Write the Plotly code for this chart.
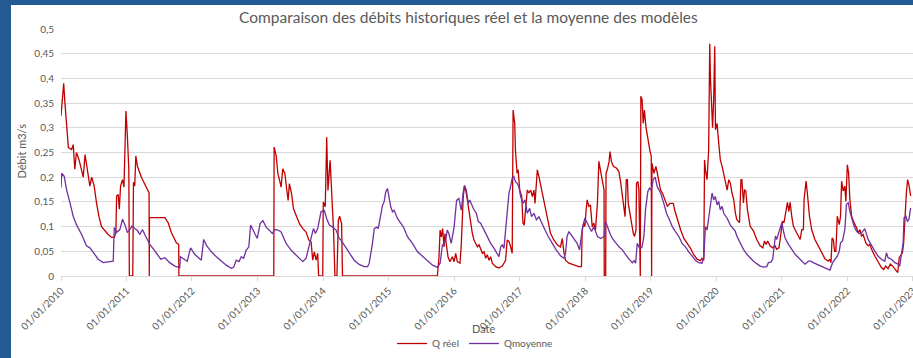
import plotly.graph_objects as go

# Débits journaliers relevés (Q réel), m3/s
q_reel = [
    ("2010-01-01", 0.324), ("2010-01-08", 0.364), ("2010-01-16", 0.39), ("2010-01-23", 0.35),
    ("2010-02-01", 0.31), ("2010-02-11", 0.26), ("2010-03-01", 0.256), ("2010-03-10", 0.266),
    ("2010-03-19", 0.216), ("2010-03-28", 0.25), ("2010-04-11", 0.236), ("2010-04-26", 0.216),
    ("2010-05-05", 0.2), ("2010-05-15", 0.246), ("2010-05-27", 0.216), ("2010-06-11", 0.182),
    ("2010-06-21", 0.2), ("2010-07-05", 0.182), ("2010-07-18", 0.148), ("2010-07-31", 0.121),
    ("2010-08-15", 0.1), ("2010-09-03", 0.091), ("2010-09-21", 0.084), ("2010-10-10", 0.078),
    ("2010-10-25", 0.078), ("2010-11-03", 0.088), ("2010-11-07", 0.162), ("2010-11-16", 0.165),
    ("2010-11-22", 0.135), ("2010-11-29", 0.182), ("2010-12-10", 0.195), ("2010-12-18", 0.18),
    ("2010-12-23", 0.29), ("2010-12-29", 0.334),
    ("2011-01-06", 0.283), ("2011-01-14", 0.216), ("2011-01-17", 0), ("2011-02-05", 0),
    ("2011-02-09", 0.19), ("2011-02-16", 0.182), ("2011-02-22", 0.243), ("2011-03-03", 0.222),
    ("2011-03-25", 0.2), ("2011-05-07", 0.168), ("2011-05-08", 0), ("2011-05-09", 0.118),
    ("2011-08-03", 0.118), ("2011-08-21", 0.108), ("2011-09-08", 0.088), ("2011-10-06", 0.067),
    ("2011-10-19", 0.064), ("2011-10-20", 0),
    ("2013-04-01", 0), ("2013-04-03", 0.261), ("2013-04-14", 0.244), ("2013-04-24", 0.207),
    ("2013-05-03", 0.194), ("2013-05-12", 0.18), ("2013-05-21", 0.217), ("2013-06-02", 0.207),
    ("2013-06-13", 0.173), ("2013-06-20", 0.153), ("2013-06-27", 0.187), ("2013-07-09", 0.167),
    ("2013-07-20", 0.136), ("2013-08-04", 0.123), ("2013-08-22", 0.106), ("2013-09-10", 0.096),
    ("2013-09-28", 0.089), ("2013-10-13", 0.073), ("2013-10-26", 0.069), ("2013-11-04", 0.032),
    ("2013-11-13", 0.049), ("2013-11-23", 0.032), ("2013-12-02", 0.046), ("2013-12-07", 0),
    ("2013-12-30", 0),
    ("2014-01-02", 0.15), ("2014-01-13", 0.14), ("2014-01-21", 0.281), ("2014-01-28", 0.173),
    ("2014-02-09", 0.234), ("2014-02-14", 0.2), ("2014-02-23", 0.14), ("2014-02-28", 0.093),
    ("2014-03-08", 0), ("2014-03-19", 0), ("2014-03-27", 0.113), ("2014-04-03", 0.121),
    ("2014-04-14", 0.106), ("2014-04-19", 0),
    ("2015-09-30", 0), ("2015-10-09", 0.039), ("2015-10-15", 0.093), ("2015-10-22", 0.079),
    ("2015-10-29", 0.096), ("2015-11-06", 0.059), ("2015-11-11", 0.086), ("2015-11-20", 0.066),
    ("2015-11-28", 0.039), ("2015-12-09", 0.029), ("2015-12-22", 0.039),
    ("2016-01-01", 0.029), ("2016-01-10", 0.046), ("2016-01-19", 0.029), ("2016-02-03", 0.026),
    ("2016-02-10", 0.0625), ("2016-02-21", 0.16), ("2016-02-28", 0.183), ("2016-03-06", 0.174),
    ("2016-03-15", 0.154), ("2016-03-25", 0.127), ("2016-04-03", 0.103), ("2016-04-12", 0.086),
    ("2016-04-21", 0.073), ("2016-04-30", 0.066), ("2016-05-10", 0.059), ("2016-05-19", 0.063),
    ("2016-05-28", 0.053), ("2016-06-07", 0.046), ("2016-06-16", 0.049), ("2016-06-25", 0.036),
    ("2016-07-04", 0.043), ("2016-07-14", 0.032), ("2016-07-23", 0.039), ("2016-08-01", 0.026),
    ("2016-08-20", 0.019), ("2016-09-07", 0.016), ("2016-09-26", 0.020), ("2016-10-14", 0.032),
    ("2016-10-23", 0.073), ("2016-11-02", 0.070), ("2016-11-11", 0.059), ("2016-11-20", 0.046),
    ("2016-11-25", 0.336), ("2016-12-04", 0.309), ("2016-12-08", 0.255), ("2016-12-17", 0.208),
    ("2016-12-23", 0.215),
    ("2017-01-01", 0.174), ("2017-01-12", 0.161), ("2017-01-19", 0.107), ("2017-01-26", 0.103),
    ("2017-02-03", 0.147), ("2017-02-12", 0.174), ("2017-02-21", 0.168), ("2017-03-03", 0.174),
    ("2017-03-12", 0.161), ("2017-03-21", 0.174), ("2017-03-27", 0.147), ("2017-04-04", 0.208),
    ("2017-04-09", 0.215), ("2017-04-18", 0.201), ("2017-05-03", 0.174), ("2017-05-16", 0.147),
    ("2017-06-04", 0.114), ("2017-06-22", 0.086), ("2017-07-10", 0.073), ("2017-07-29", 0.063),
    ("2017-08-16", 0.059), ("2017-08-26", 0.076), ("2017-09-04", 0.049), ("2017-09-13", 0.032),
    ("2017-10-02", 0.026), ("2017-10-29", 0.022), ("2017-11-26", 0.019), ("2017-12-11", 0.019),
    ("2017-12-15", 0.093), ("2017-12-24", 0.107), ("2017-12-30", 0.1),
    ("2018-01-06", 0.134), ("2018-01-12", 0.154), ("2018-01-21", 0.141), ("2018-01-30", 0.144),
    ("2018-02-09", 0.1), ("2018-02-18", 0.107), ("2018-02-27", 0.093), ("2018-03-10", 0.147),
    ("2018-03-18", 0.232), ("2018-03-25", 0.218), ("2018-04-02", 0.195), ("2018-04-09", 0.181),
    ("2018-04-16", 0.174), ("2018-04-17", 0), ("2018-04-25", 0), ("2018-04-27", 0.208),
    ("2018-05-04", 0.215), ("2018-05-14", 0.232), ("2018-05-19", 0.252), ("2018-05-27", 0.232),
    ("2018-06-07", 0.222), ("2018-06-25", 0.218), ("2018-07-08", 0.211), ("2018-07-18", 0.188),
    ("2018-07-27", 0.161), ("2018-08-05", 0.127), ("2018-08-11", 0.120), ("2018-08-18", 0.195),
    ("2018-08-24", 0.195), ("2018-08-29", 0.147), ("2018-09-07", 0.127), ("2018-09-17", 0.107),
    ("2018-09-26", 0.086), ("2018-10-03", 0.080), ("2018-10-11", 0.093), ("2018-10-14", 0.188),
    ("2018-10-22", 0.191), ("2018-10-27", 0.174), ("2018-10-31", 0), ("2018-11-04", 0),
    ("2018-11-07", 0.364), ("2018-11-14", 0.357), ("2018-11-20", 0.309), ("2018-11-27", 0.336),
    ("2018-12-05", 0.303), ("2018-12-16", 0.276), ("2018-12-27", 0.255),
    ("2019-01-04", 0.242), ("2019-01-06", 0), ("2019-01-08", 0.228), ("2019-01-19", 0.208),
    ("2019-01-30", 0.222), ("2019-02-07", 0.208), ("2019-02-16", 0.191), ("2019-02-25", 0.174),
    ("2019-03-07", 0.168), ("2019-03-20", 0.154), ("2019-04-04", 0.141), ("2019-04-18", 0.147),
    ("2019-05-07", 0.147), ("2019-05-14", 0.134), ("2019-05-29", 0.114), ("2019-06-17", 0.093),
    ("2019-07-05", 0.076), ("2019-07-23", 0.066), ("2019-08-11", 0.056), ("2019-08-29", 0.043),
    ("2019-09-17", 0.034), ("2019-10-05", 0.031), ("2019-10-14", 0.036), ("2019-10-24", 0.032),
    ("2019-10-28", 0.235), ("2019-11-02", 0.215), ("2019-11-11", 0.195), ("2019-11-20", 0.255),
    ("2019-11-26", 0.47), ("2019-11-30", 0.40), ("2019-12-05", 0.337), ("2019-12-12", 0.30),
    ("2019-12-18", 0.36), ("2019-12-24", 0.465), ("2019-12-28", 0.296),
    ("2020-01-06", 0.309), ("2020-01-15", 0.269), ("2020-01-24", 0.235), ("2020-02-03", 0.222),
    ("2020-02-12", 0.208), ("2020-02-21", 0.188), ("2020-03-02", 0.174), ("2020-03-11", 0.195),
    ("2020-03-20", 0.188), ("2020-03-29", 0.168), ("2020-04-08", 0.154), ("2020-04-17", 0.127),
    ("2020-04-25", 0.114), ("2020-05-10", 0.108), ("2020-05-18", 0.195), ("2020-05-23", 0.195),
    ("2020-06-01", 0.148), ("2020-06-07", 0.175), ("2020-06-14", 0.172), ("2020-06-23", 0.135),
    ("2020-07-08", 0.101), ("2020-07-27", 0.091), ("2020-08-14", 0.074), ("2020-09-02", 0.061),
    ("2020-09-17", 0.057), ("2020-09-26", 0.071), ("2020-10-05", 0.064), ("2020-10-14", 0.071),
    ("2020-10-27", 0.061), ("2020-11-11", 0.057), ("2020-11-24", 0.061), ("2020-12-03", 0.054),
    ("2020-12-16", 0.057), ("2020-12-25", 0.081),
    ("2021-01-04", 0.111), ("2021-01-13", 0.108), ("2021-01-23", 0.128), ("2021-02-01", 0.149),
    ("2021-02-09", 0.131), ("2021-02-16", 0.149), ("2021-02-25", 0.121), ("2021-03-06", 0.101),
    ("2021-03-25", 0.087), ("2021-04-13", 0.074), ("2021-04-22", 0.094), ("2021-05-01", 0.094),
    ("2021-05-05", 0.155), ("2021-05-16", 0.192), ("2021-05-23", 0.168), ("2021-06-04", 0.121),
    ("2021-06-16", 0.094), ("2021-07-04", 0.074), ("2021-07-23", 0.061), ("2021-08-11", 0.047),
    ("2021-08-29", 0.035), ("2021-09-17", 0.030), ("2021-09-26", 0.034), ("2021-10-02", 0.027),
    ("2021-10-08", 0.077), ("2021-10-15", 0.074), ("2021-10-22", 0.050), ("2021-10-29", 0.050),
    ("2021-11-06", 0.121), ("2021-11-17", 0.104), ("2021-11-24", 0.121), ("2021-11-30", 0.192),
    ("2021-12-09", 0.172), ("2021-12-18", 0.182), ("2021-12-24", 0.151),
    ("2022-01-01", 0.225), ("2022-01-08", 0.209), ("2022-01-15", 0.155), ("2022-01-25", 0.121),
    ("2022-02-07", 0.108), ("2022-02-21", 0.098), ("2022-03-03", 0.087), ("2022-03-12", 0.094),
    ("2022-03-21", 0.081), ("2022-03-30", 0.084), ("2022-04-14", 0.067), ("2022-04-27", 0.061),
    ("2022-05-06", 0.064), ("2022-05-16", 0.054), ("2022-06-04", 0.040), ("2022-06-22", 0.027),
    ("2022-07-10", 0.017), ("2022-07-23", 0.013), ("2022-08-03", 0.020), ("2022-08-16", 0.015),
    ("2022-08-29", 0.024), ("2022-09-13", 0.019), ("2022-09-28", 0.013), ("2022-10-09", 0.007),
    ("2022-10-17", 0.037), ("2022-10-24", 0.040), ("2022-11-04", 0.047), ("2022-11-11", 0.067),
    ("2022-11-18", 0.121), ("2022-11-26", 0.168), ("2022-12-03", 0.195), ("2022-12-10", 0.185),
    ("2022-12-20", 0.162),
]

# Débit moyen simulé par l'ensemble des modèles (Qmoyenne), m3/s
q_moyenne = [
    ("2010-01-01", 0.179), ("2010-01-05", 0.208), ("2010-01-19", 0.202), ("2010-02-01", 0.175),
    ("2010-02-20", 0.148), ("2010-03-10", 0.121), ("2010-03-28", 0.104), ("2010-04-26", 0.084),
    ("2010-05-23", 0.061), ("2010-06-11", 0.057), ("2010-06-29", 0.0485), ("2010-07-27", 0.034),
    ("2010-08-24", 0.027), ("2010-09-21", 0.028), ("2010-10-19", 0.030), ("2010-10-25", 0.098),
    ("2010-11-07", 0.088), ("2010-11-25", 0.094), ("2010-12-10", 0.115), ("2010-12-23", 0.104),
    ("2011-01-06", 0.088), ("2011-01-19", 0.094), ("2011-02-01", 0.101), ("2011-02-16", 0.096),
    ("2011-03-03", 0.092), ("2011-03-16", 0.084), ("2011-03-31", 0.094), ("2011-04-17", 0.081),
    ("2011-05-11", 0.064), ("2011-06-08", 0.051), ("2011-07-11", 0.034), ("2011-08-03", 0.037),
    ("2011-08-30", 0.027), ("2011-09-27", 0.020), ("2011-10-25", 0.017), ("2011-10-28", 0.039),
    ("2011-11-21", 0.034), ("2011-12-06", 0.030), ("2011-12-24", 0.057),
    ("2012-01-16", 0.044), ("2012-02-22", 0.032), ("2012-03-06", 0.074), ("2012-03-21", 0.0625),
    ("2012-04-18", 0.049), ("2012-05-16", 0.039), ("2012-06-13", 0.030), ("2012-07-10", 0.022),
    ("2012-08-07", 0.0155), ("2012-08-20", 0.0175), ("2012-09-04", 0.032), ("2012-09-19", 0.029),
    ("2012-10-02", 0.039), ("2012-10-15", 0.036), ("2012-10-29", 0.052), ("2012-11-13", 0.059),
    ("2012-11-23", 0.103), ("2012-12-05", 0.093), ("2012-12-30", 0.076),
    ("2013-01-15", 0.106), ("2013-01-30", 0.112), ("2013-02-18", 0.099), ("2013-03-08", 0.093),
    ("2013-03-24", 0.086), ("2013-04-05", 0.094), ("2013-04-24", 0.093), ("2013-05-12", 0.089),
    ("2013-06-09", 0.066), ("2013-07-07", 0.052), ("2013-08-04", 0.042), ("2013-09-10", 0.029),
    ("2013-09-28", 0.036), ("2013-10-13", 0.059), ("2013-10-26", 0.079), ("2013-11-08", 0.096),
    ("2013-11-19", 0.086), ("2013-12-02", 0.096), ("2013-12-20", 0.13),
    ("2014-01-08", 0.133), ("2014-01-21", 0.116), ("2014-02-05", 0.103), ("2014-02-23", 0.099),
    ("2014-03-14", 0.093), ("2014-04-01", 0.076), ("2014-04-10", 0.073), ("2014-04-29", 0.0625),
    ("2014-05-27", 0.046), ("2014-06-23", 0.032), ("2014-07-21", 0.0235), ("2014-08-18", 0.019),
    ("2014-09-06", 0.019), ("2014-09-15", 0.026), ("2014-10-03", 0.066), ("2014-10-13", 0.096),
    ("2014-10-26", 0.099), ("2014-11-04", 0.096), ("2014-11-13", 0.113), ("2014-11-28", 0.143),
    ("2014-12-07", 0.15), ("2014-12-16", 0.17), ("2014-12-26", 0.177),
    ("2015-01-04", 0.16), ("2015-01-13", 0.14), ("2015-01-23", 0.13), ("2015-02-01", 0.133),
    ("2015-02-20", 0.116), ("2015-03-10", 0.106), ("2015-03-25", 0.099), ("2015-04-17", 0.079),
    ("2015-05-14", 0.066), ("2015-06-11", 0.049), ("2015-07-09", 0.040), ("2015-08-06", 0.029),
    ("2015-09-03", 0.022), ("2015-09-30", 0.0175), ("2015-10-15", 0.026), ("2015-10-28", 0.0625),
    ("2015-11-06", 0.066), ("2015-11-15", 0.073), ("2015-11-24", 0.093), ("2015-12-03", 0.086),
    ("2015-12-16", 0.066),
    ("2016-01-01", 0.099), ("2016-01-15", 0.153), ("2016-01-28", 0.157), ("2016-02-10", 0.133),
    ("2016-02-21", 0.17), ("2016-02-28", 0.183), ("2016-03-09", 0.174), ("2016-03-20", 0.147),
    ("2016-03-28", 0.154), ("2016-04-08", 0.144), ("2016-04-21", 0.134), ("2016-05-04", 0.127),
    ("2016-05-15", 0.110), ("2016-05-28", 0.107), ("2016-06-16", 0.093), ("2016-07-04", 0.080),
    ("2016-07-23", 0.066), ("2016-08-11", 0.056), ("2016-08-29", 0.046), ("2016-09-07", 0.039),
    ("2016-09-17", 0.059), ("2016-09-26", 0.063), ("2016-10-05", 0.056), ("2016-10-14", 0.093),
    ("2016-10-23", 0.130), ("2016-11-02", 0.168), ("2016-11-11", 0.181), ("2016-11-20", 0.198),
    ("2016-11-29", 0.201), ("2016-12-08", 0.191), ("2016-12-17", 0.188), ("2016-12-27", 0.181),
    ("2017-01-06", 0.161), ("2017-01-19", 0.147), ("2017-01-30", 0.154), ("2017-02-12", 0.127),
    ("2017-02-25", 0.137), ("2017-03-08", 0.120), ("2017-03-21", 0.127), ("2017-04-04", 0.114),
    ("2017-04-18", 0.120), ("2017-05-03", 0.107), ("2017-05-22", 0.093), ("2017-06-09", 0.080),
    ("2017-07-01", 0.066), ("2017-07-23", 0.053), ("2017-08-16", 0.041), ("2017-09-04", 0.036),
    ("2017-09-13", 0.046), ("2017-09-22", 0.080), ("2017-10-02", 0.090), ("2017-10-20", 0.080),
    ("2017-11-04", 0.073), ("2017-11-17", 0.066), ("2017-11-30", 0.053), ("2017-12-11", 0.086),
    ("2017-12-18", 0.100), ("2017-12-30", 0.117),
    ("2018-01-12", 0.107), ("2018-01-25", 0.100), ("2018-02-05", 0.090), ("2018-02-18", 0.100),
    ("2018-03-03", 0.086), ("2018-03-10", 0.080), ("2018-03-29", 0.076), ("2018-04-16", 0.080),
    ("2018-04-25", 0.110), ("2018-05-04", 0.100), ("2018-05-19", 0.086), ("2018-06-01", 0.076),
    ("2018-06-20", 0.066), ("2018-07-08", 0.059), ("2018-07-27", 0.053), ("2018-08-14", 0.043),
    ("2018-09-02", 0.034), ("2018-09-21", 0.027), ("2018-09-30", 0.031), ("2018-10-09", 0.026),
    ("2018-10-18", 0.066), ("2018-10-27", 0.059), ("2018-11-06", 0.056), ("2018-11-14", 0.059),
    ("2018-11-24", 0.080), ("2018-12-03", 0.134), ("2018-12-16", 0.171), ("2018-12-25", 0.178),
    ("2019-01-04", 0.174), ("2019-01-15", 0.195), ("2019-01-26", 0.200), ("2019-02-06", 0.181),
    ("2019-02-16", 0.174), ("2019-02-25", 0.168), ("2019-03-15", 0.147), ("2019-03-30", 0.127),
    ("2019-04-12", 0.117), ("2019-05-01", 0.100), ("2019-05-19", 0.090), ("2019-06-07", 0.080),
    ("2019-06-25", 0.066), ("2019-07-14", 0.059), ("2019-08-01", 0.049), ("2019-08-20", 0.039),
    ("2019-09-07", 0.032), ("2019-09-26", 0.027), ("2019-10-14", 0.026), ("2019-10-24", 0.039),
    ("2019-11-02", 0.100), ("2019-11-11", 0.093), ("2019-11-20", 0.114), ("2019-11-30", 0.147),
    ("2019-12-09", 0.168), ("2019-12-18", 0.154), ("2019-12-27", 0.161),
    ("2020-01-06", 0.144), ("2020-01-15", 0.151), ("2020-01-24", 0.134), ("2020-02-03", 0.141),
    ("2020-02-12", 0.127), ("2020-03-02", 0.117), ("2020-03-20", 0.103), ("2020-04-08", 0.093),
    ("2020-04-16", 0.091), ("2020-04-25", 0.081), ("2020-05-14", 0.067), ("2020-06-01", 0.054),
    ("2020-06-20", 0.044), ("2020-07-08", 0.037), ("2020-07-27", 0.030), ("2020-08-14", 0.025),
    ("2020-09-02", 0.020), ("2020-09-21", 0.018), ("2020-10-09", 0.019), ("2020-10-18", 0.027),
    ("2020-11-01", 0.028), ("2020-11-11", 0.034), ("2020-11-18", 0.061), ("2020-11-26", 0.081),
    ("2020-12-03", 0.074), ("2020-12-13", 0.087), ("2020-12-22", 0.098),
    ("2021-01-01", 0.108), ("2021-01-10", 0.091), ("2021-01-19", 0.077), ("2021-02-07", 0.064),
    ("2021-02-25", 0.054), ("2021-03-16", 0.044), ("2021-04-04", 0.037), ("2021-04-22", 0.030),
    ("2021-05-10", 0.024), ("2021-05-29", 0.030), ("2021-06-11", 0.030), ("2021-06-25", 0.027),
    ("2021-07-14", 0.024), ("2021-08-02", 0.020), ("2021-08-20", 0.017), ("2021-09-08", 0.015),
    ("2021-09-26", 0.012), ("2021-10-11", 0.027), ("2021-10-24", 0.034), ("2021-11-06", 0.040),
    ("2021-11-17", 0.050), ("2021-11-24", 0.067), ("2021-12-05", 0.071), ("2021-12-18", 0.094),
    ("2021-12-27", 0.145),
    ("2022-01-06", 0.148), ("2022-01-15", 0.131), ("2022-01-27", 0.114), ("2022-02-07", 0.101),
    ("2022-02-21", 0.091), ("2022-03-08", 0.086), ("2022-03-21", 0.087), ("2022-04-08", 0.096),
    ("2022-04-27", 0.074), ("2022-05-16", 0.061), ("2022-06-04", 0.050), ("2022-06-22", 0.040),
    ("2022-07-10", 0.034), ("2022-07-29", 0.030), ("2022-08-07", 0.047), ("2022-08-16", 0.037),
    ("2022-09-04", 0.034), ("2022-09-23", 0.027), ("2022-10-11", 0.024), ("2022-10-20", 0.020),
    ("2022-10-29", 0.040), ("2022-11-08", 0.067), ("2022-11-13", 0.118), ("2022-11-23", 0.121),
    ("2022-12-02", 0.111), ("2022-12-10", 0.114), ("2022-12-20", 0.138),
]

titre = "Comparaison des débits historiques réel et la moyenne des modèles"
nom_reel = "Q réel"
nom_moyenne = "Qmoyenne"
titre_x = "Date"
titre_y = "Débit m3/s"

GRIS_TEXTE = "#595959"
GRIS_GRILLE = "#d9d9d9"
POLICE = "Lato"

reel_dates, reel_vals = zip(*q_reel)
moy_dates, moy_vals = zip(*q_moyenne)

fig = go.Figure()
fig.add_trace(go.Scatter(x=list(reel_dates), y=list(reel_vals), mode="lines", name=nom_reel,
                         line=dict(color="#c00000", width=1.3)))
fig.add_trace(go.Scatter(x=list(moy_dates), y=list(moy_vals), mode="lines", name=nom_moyenne,
                         line=dict(color="#7030a0", width=1.3)))

# zone blanche du graphique sur fond de diapositive bleu
fig.add_shape(type="rect", xref="paper", yref="paper", x0=-0.0587, x1=1.2, y0=-0.5, y1=1.097,
              fillcolor="white", line=dict(width=0), layer="below")

fig.update_layout(
    width=913, height=358,
    margin=dict(l=61, r=0, t=29, b=81),
    paper_bgcolor="#245a93",
    plot_bgcolor="rgba(0,0,0,0)",
    separators=", ",
    font=dict(family=POLICE, color=GRIS_TEXTE, size=10),
    title=dict(text=titre, x=0.513, xanchor="center", y=1 - 18 / 358, yanchor="middle",
               yref="container", font=dict(size=15.5, color=GRIS_TEXTE, family=POLICE)),
    showlegend=True,
    legend=dict(orientation="h", x=0.486, xanchor="center", y=-0.274, yanchor="middle",
                font=dict(size=10, color=GRIS_TEXTE), bgcolor="rgba(0,0,0,0)"),
    annotations=[
        dict(text=titre_x, xref="paper", yref="paper", x=(484 - 61) / 852, y=(277 - 330) / 248,
             showarrow=False, font=dict(size=11, color=GRIS_TEXTE), xanchor="center", yanchor="middle"),
        dict(text=titre_y, xref="paper", yref="paper", x=(22 - 61) / 852, y=(277 - 152) / 248,
             showarrow=False, textangle=-90, font=dict(size=11, color=GRIS_TEXTE),
             xanchor="center", yanchor="middle"),
    ],
)

fig.update_xaxes(
    type="date", range=["2010-01-01", "2023-01-02"],
    tick0="2010-01-01", dtick="M12", tickformat="%d/%m/%Y", tickangle=-45,
    showgrid=False, showline=True, linecolor=GRIS_GRILLE, linewidth=1,
    ticks="outside", ticklen=4, tickcolor=GRIS_GRILLE, ticklabeloverflow="allow",
    tickfont=dict(size=10, color=GRIS_TEXTE), automargin=False, zeroline=False,
)
fig.update_yaxes(
    range=[0, 0.5], dtick=0.05, tick0=0,
    showgrid=True, gridcolor=GRIS_GRILLE, gridwidth=1, zeroline=False, showline=False,
    tickfont=dict(size=10, color=GRIS_TEXTE), automargin=False, ticklabelstandoff=6,
)

fig.write_html("out.html")
